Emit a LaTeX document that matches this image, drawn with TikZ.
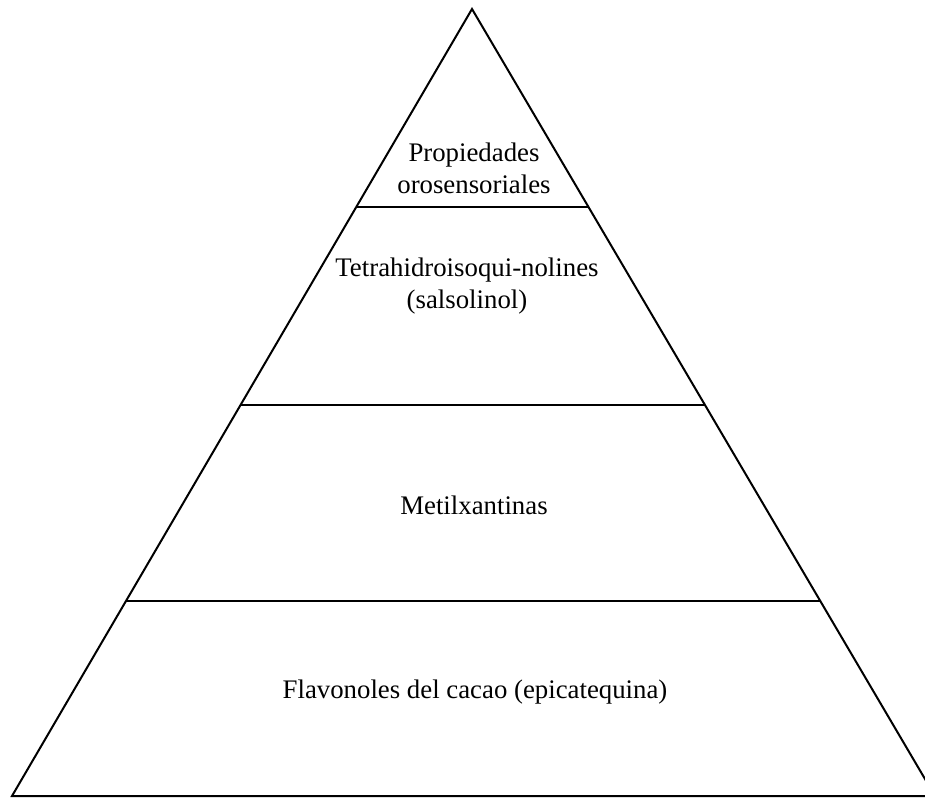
\documentclass[tikz,border=0pt]{standalone}
\usepackage{fontspec}
\setmainfont{Liberation Serif}
\usetikzlibrary{calc}

\tikzset{
  layer/.style={align=center, font=\fontsize{13.4}{16}\selectfont},
  edge/.style={line width=1pt, line join=miter}
}

\begin{document}
\begin{tikzpicture}[x=0.5pt, y=-0.5pt]
  \useasboundingbox (0,0) rectangle (925,797);
  \clip (0,0) rectangle (925,797);
  % pyramid corners
  \coordinate (apex) at (472,9);
  \coordinate (baseL) at (12,796);
  \coordinate (baseR) at (935,796);
  \draw [edge] (baseL) -- (apex) -- (baseR) -- cycle;
  % level separators
  \foreach \y/\n [evaluate=\y as \f using (\y-9)/787] in {207/1, 405/2, 601/3} {
    \coordinate (lvl\n-west) at ($(apex)!\f!(baseL)$);
    \coordinate (lvl\n-east) at ($(apex)!\f!(baseR)$);
    \draw [edge] (lvl\n-west) -- (lvl\n-east);
  }
  \node [layer] (orosens) at (474,168) {Propiedades\\orosensoriales};
  \node [layer] (tiq) at (467,286) {Tetrahidroisoqui-nolines\\(salsolinol)};
  \node [layer] (metil) at (474,505) {Metilxantinas};
  \node [layer] (flav) at (475,692) {Flavonoles del cacao (epicatequina)};
\end{tikzpicture}
\end{document}
